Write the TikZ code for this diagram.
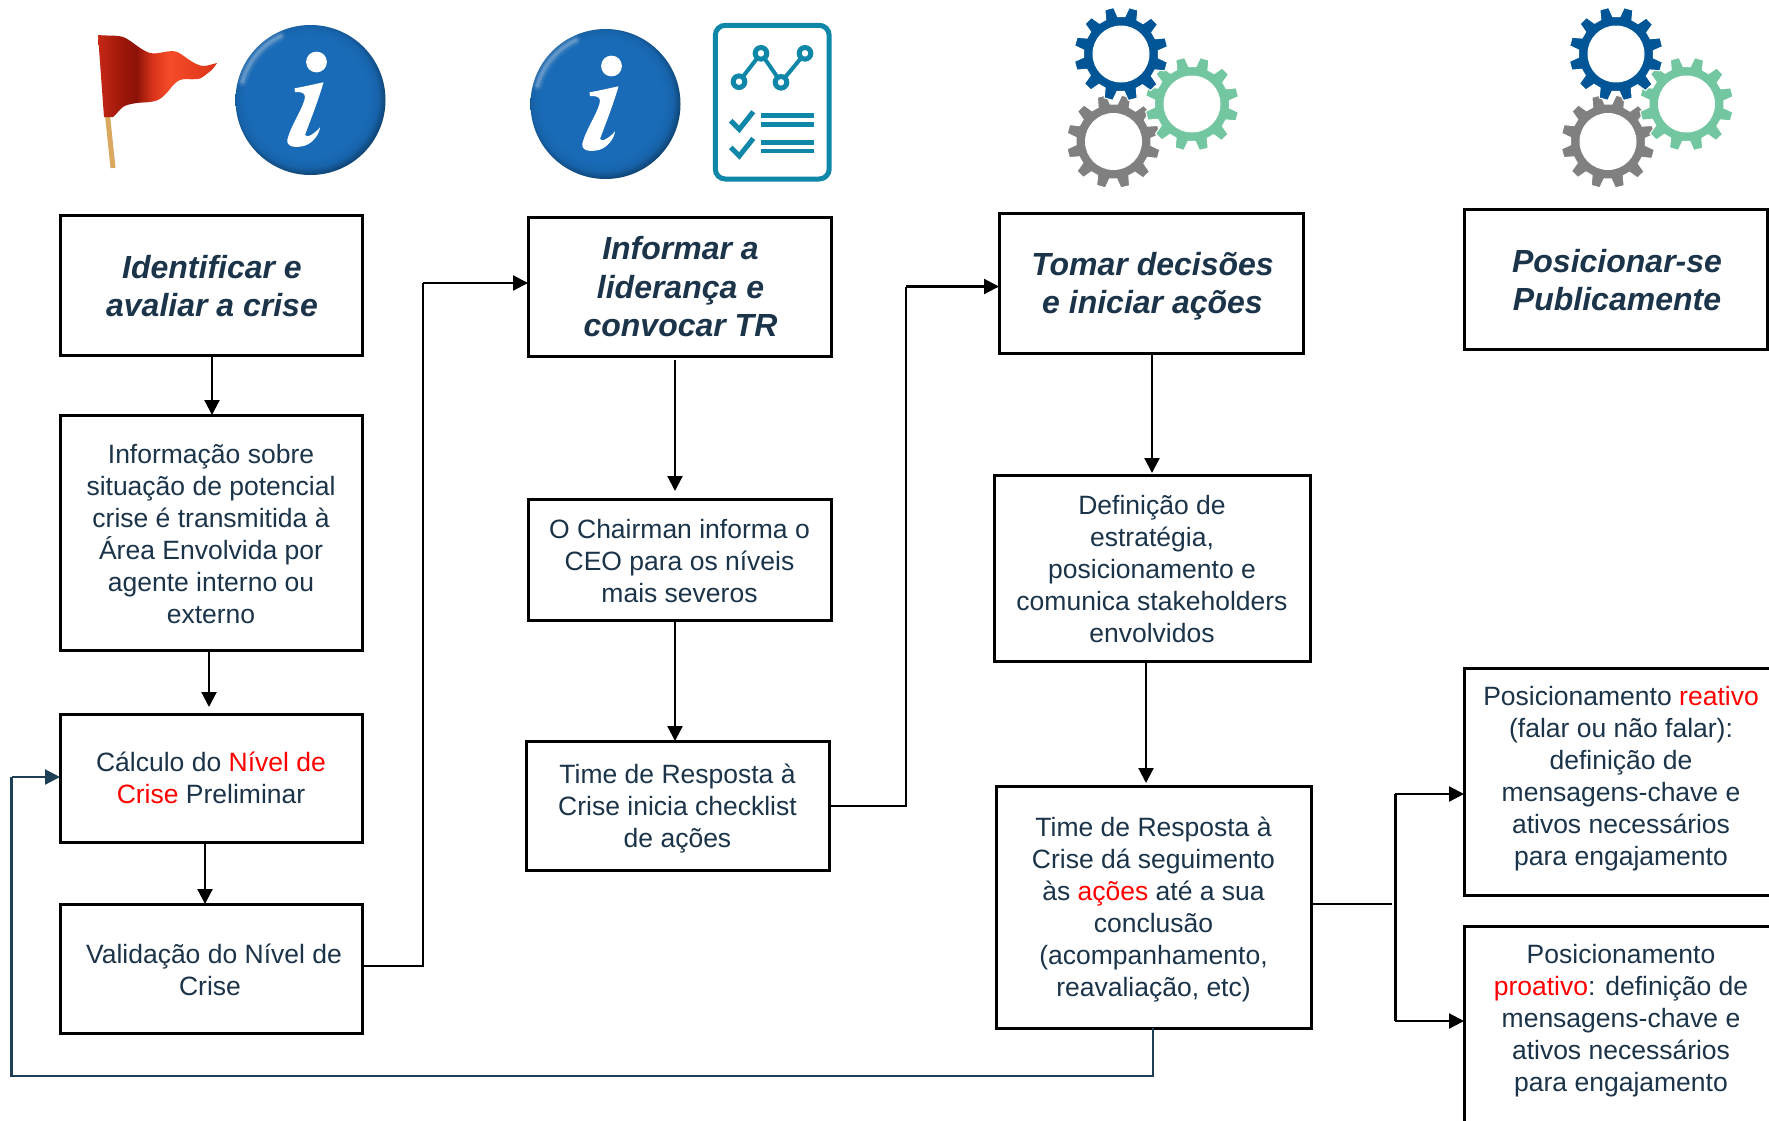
\documentclass[tikz,border=0pt]{standalone}
\usepackage{fontspec}
\setmainfont{Liberation Sans}
\usetikzlibrary{arrows.meta}
\definecolor{navy}{HTML}{1B3449}
\definecolor{loopc}{HTML}{1F3F57}
\definecolor{redtxt}{HTML}{FF0000}
\definecolor{teal2}{HTML}{0F87A8}
\definecolor{gblue}{HTML}{005596}
\definecolor{ggreen}{HTML}{72C6A0}
\definecolor{ggray}{HTML}{808080}
\definecolor{polec}{HTML}{DBA860}
\pgfdeclareradialshading{infoball}{\pgfpoint{-2bp}{2bp}}{rgb(0bp)=(.10,.42,.72);rgb(20bp)=(.10,.42,.72);rgb(23.5bp)=(.09,.39,.67);rgb(26bp)=(.06,.27,.46);rgb(27.8bp)=(.04,.17,.30);rgb(50bp)=(.04,.17,.30)}
\pgfdeclarehorizontalshading{flagsh}{100bp}{rgb(0bp)=(.87,.24,.13);rgb(6bp)=(.80,.16,.08);rgb(9bp)=(.62,.09,.04);rgb(12bp)=(.88,.20,.11);rgb(23bp)=(.80,.17,.09);rgb(35bp)=(.62,.09,.04);rgb(41bp)=(.55,.07,.03);rgb(48bp)=(.85,.20,.10);rgb(55bp)=(.96,.30,.16);rgb(77bp)=(.85,.19,.09);rgb(100bp)=(.92,.26,.13)}
\tikzset{
 boxst/.style={draw=black,line width=3pt,fill=white,inner sep=0pt,outer sep=0pt},
 txt/.style={text=navy,align=center,font=\fontsize{26.5}{32}\selectfont,inner sep=0pt,yshift=-1.5pt},
 head/.style={text=navy,align=center,font=\fontsize{32}{38.5}\selectfont\bfseries\itshape,inner sep=0pt},
 flow/.style={draw=black,line width=2.2pt,-{Triangle[length=15pt,width=15pt]}},
 plain/.style={draw=black,line width=2.2pt},
 back/.style={draw=loopc,line width=2.2pt},
}
\newcommand{\rr}[1]{\textcolor{redtxt}{#1}}
% name, x0, y0, x1, y1, label style, text
\newcommand{\bx}[7]{\node[boxst,minimum width={(#4)-(#2)},minimum height={(#5)-(#3)},
  label={[#6]center:{#7}}] (#1) at ({((#2)+(#4))/2},{((#3)+(#5))/2}) {};}
\newcommand{\gearic}[3]{% x,y,colour
 \begin{scope}[shift={(#1,#2)}]
 \filldraw[fill=#3,draw=white,line width=1pt,even odd rule] (6:37.5)
  \foreach \k in {0,30,...,330}{
    -- ({\k+6}:37.5) -- ({\k+10}:47) -- ({\k+21}:47) -- ({\k+25}:37.5)
  } -- cycle (0,0) circle (28);
 \end{scope}}
\newcommand{\infoic}[2]{% x,y
 \begin{scope}[shift={(#1,#2)}]
 \shade[shading=infoball] (0,0) circle (75);
 \foreach \w/\o in {11/.05,8/.07,5/.10,3/.14}{
  \draw[white,opacity=\o,line width=\w pt,line cap=round] (195:70.5) arc[start angle=195,end angle=245,radius=70.5];}
 \fill[white] (6,-38) circle (10.4);
 \fill[white] (-16,-11.7) .. controls (-8,-13) and (5,-16) .. (13,-17.7)
   .. controls (8,0) and (0,20) .. (-5.5,35)
   .. controls (-4,39) and (5,33) .. (9.5,27.3)
   .. controls (9,34) and (2,44) .. (-7,46)
   .. controls (-15,48) and (-25,47) .. (-23,39)
   .. controls (-19,24) and (-6,6) .. (-5.5,-3.3)
   .. controls (-5.5,-8) and (-11,-8) .. (-15.5,-8) -- cycle;
 \end{scope}}
\begin{document}
\begin{tikzpicture}[x=1pt,y=-1pt]
\useasboundingbox (0,0) rectangle (1769,1120);
\fill[white] (0,0) rectangle (1769,1120);
% flag
\draw[polec,line width=5pt] (107.5,115) -- (113,168);
\shade[shading=flagsh] (98,35) .. controls (108,36) and (117,35) .. (123,37)
  .. controls (130,39) and (140,50) .. (150,53)
  .. controls (158,55) and (170,49) .. (177,52)
  .. controls (183,54) and (193,65) .. (203,66)
  .. controls (208,66) and (212,64) .. (217,63)
  .. controls (214,68) and (211,71) .. (208,73)
  .. controls (204,76) and (201,79) .. (197,79)
  .. controls (190,80) and (185,78) .. (180,80)
  .. controls (172,83) and (168,95) .. (158,100)
  .. controls (150,103) and (145,102) .. (137,103)
  .. controls (130,104) and (126,105) .. (123,107)
  .. controls (119,110) and (116,115) .. (113,117)
  -- (104,117) -- cycle;
\infoic{310.5}{100}
\infoic{605.5}{104}
% report icon
\draw[teal2,line width=5pt,rounded corners=10pt] (715.3,25.3) rectangle (829.2,179);
\draw[teal2,line width=4pt] (739,81.7) -- (761,53.3) -- (781,82.3) -- (805,53.3);
\foreach \cx/\cy in {739/81.7,761/53.3,781/82.3,805/53.3}{
 \draw[teal2,line width=5pt,fill=white] (\cx,\cy) circle (5.8);}
\foreach \dy in {0,26.7}{
 \draw[teal2,line width=5pt] (730.7,{120.7+\dy}) -- (739.3,{129.3+\dy}) -- (753.3,{111.7+\dy});
 \fill[teal2] (761,{113.3+\dy}) rectangle (814.3,{117.9+\dy});
 \fill[teal2] (761,{121.9+\dy}) rectangle (814.3,{126.7+\dy});}
% gears
\gearic{1113.5}{141.5}{ggray}
\gearic{1192}{104}{ggreen}
\gearic{1121}{54}{gblue}
\gearic{1608}{141.5}{ggray}
\gearic{1686.5}{104}{ggreen}
\gearic{1616}{54}{gblue}
% --- boxes ---
\bx{a1}{60}{215}{362}{355}{head,xshift=1pt,yshift=-1pt}{Identificar e\\avaliar a crise}
\bx{a2}{60}{415}{362}{650}{txt}{Informação sobre\\situação de potencial\\crise é transmitida à\\Área Envolvida por\\agente interno ou\\externo}
\bx{a3}{60}{714}{362}{842}{txt,yshift=1.5pt}{Cálculo do \rr{Nível de}\\\rr{Crise} Preliminar}
\bx{a4}{60}{904}{362}{1033}{txt,xshift=3pt}{Validação do Nível de\\Crise\hspace*{8pt}}
\bx{b1}{528}{217}{831}{356}{head,xshift=1pt,yshift=-0.5pt}{Informar a\\liderança e\\convocar TR}
\bx{b2}{528}{499}{831}{620}{txt}{O Chairman informa o\\CEO para os níveis\\mais severos}
\bx{b3}{526}{741}{829}{870}{txt,yshift=-1.5pt}{Time de Resposta à\\Crise inicia checklist\\de ações}
\bx{c1}{999}{213}{1303}{353}{head,xshift=1.5pt,yshift=-3pt}{Tomar decisões\\e iniciar ações}
\bx{c2}{994}{475}{1310}{661}{txt}{Definição de\\estratégia,\\posicionamento e\\comunica stakeholders\\envolvidos}
\bx{c3}{996}{786}{1311}{1028}{txt,yshift=-1.5pt}{Time de Resposta à\\Crise dá seguimento\\às \rr{ações} até a sua\\conclusão\\(acompanhamento,\\reavaliação, etc)}
\bx{d1}{1464}{209}{1767}{349}{head,xshift=1.5pt,yshift=-1pt}{Posicionar-se\\Publicamente}
\bx{d2}{1464}{668}{1785}{895}{txt,xshift=-3.5pt,yshift=4pt}{Posicionamento \rr{reativo}\\(falar ou não falar):\\definição de\\mensagens-chave e\\ativos necessários\\para engajamento}
\bx{d3}{1464}{926}{1785}{1135}{txt,xshift=-3.5pt,yshift=11pt}{Posicionamento\\\rr{proativo}: definição de\\mensagens-chave e\\ativos necessários\\para engajamento}
% --- connectors ---
\coordinate (p1) at (423,966);
\coordinate (p2) at (423,283);
\coordinate (q1) at (906,806);
\coordinate (q2) at (906,286.5);
\coordinate (j1) at (1392,904);
\coordinate (j2) at (1395,794);
\coordinate (j3) at (1395,1021);
\coordinate (l1) at (1153,1076);
\coordinate (l2) at (11.5,1076);
\coordinate (l3) at (11.5,777);
\draw[flow] (212,356) -- (212,415);
\draw[flow] (209,651) -- (209,707);
\draw[flow] (205,844) -- (205,904);
\draw[plain] (a4.east |- p1) -- (p1) -- (p2);
\draw[flow] (p2) -- (p2 -| b1.west);
\draw[flow] (675,360) -- (675,491);
\draw[flow] (675,620) -- (675,741);
\draw[plain] (b3.east |- q1) -- (q1) -- (q2);
\draw[flow] (q2) -- (q2 -| c1.west);
\draw[flow] (1152,353) -- (1152,473);
\draw[flow] (1146,661) -- (1146,783);
\draw[plain] (c3.east |- j1) -- (j1);
\draw[draw=black,line width=3pt] (j2) -- (j3);
\draw[flow] (j2) -- (j2 -| d2.west);
\draw[flow] (j3) -- (j3 -| d3.west);
\draw[back] (l1 |- c3.south) -- (l1) -- (l2) -- (l3);
\draw[back,-{Triangle[length=15pt,width=15pt]}] (l3) -- (l3 -| a3.west);
\end{tikzpicture}
\end{document}
